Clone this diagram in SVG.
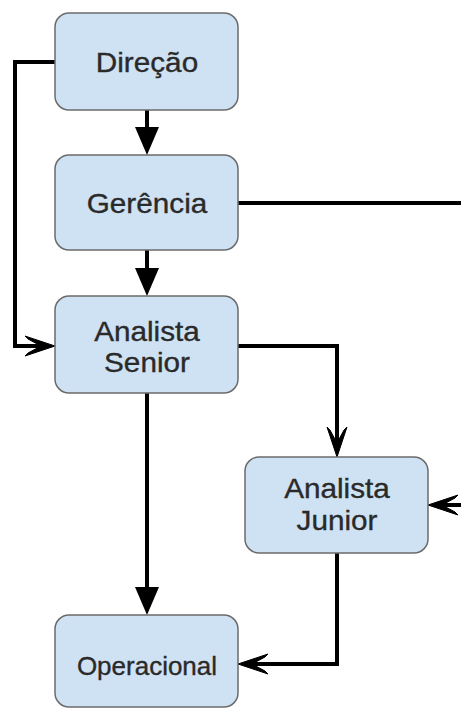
<svg xmlns="http://www.w3.org/2000/svg" width="461" height="708" viewBox="0 0 461 708">
  <style>
    .box { fill: #cfe2f3; stroke: #6b6b6b; stroke-width: 1.5; }
    .lbl { font-family: "Liberation Sans", Arial, sans-serif; font-size: 27px; fill: #2a2a2a; stroke: #2a2a2a; stroke-width: 0.35; text-anchor: middle; }
    .small { font-size: 25px; }
    .wire { fill: none; stroke: #000; stroke-width: 4; stroke-linejoin: miter; }
    .solid { fill: #000; }
    .open { fill: #000; stroke: #000; stroke-width: 1; stroke-linejoin: miter; }
  </style>
  <defs>
    <!-- filled triangle head, tip at origin pointing +x -->
    <path id="headSolid" class="solid" d="M0,0 L-28,-12 L-28,12 Z"/>
    <!-- swept open head, tip at origin pointing +x -->
    <path id="headOpen" class="open" d="M0,0 L-30,-10 L-27,-7 L-14,0 L-27,7 L-30,10 Z"/>
  </defs>

  <g id="connectors">
    <!-- Direção -> Gerência -->
    <line class="wire" x1="147" y1="110" x2="147" y2="130"/>
    <use href="#headSolid" transform="translate(147,155) rotate(90)"/>
    <!-- Gerência -> Analista Senior -->
    <line class="wire" x1="147" y1="250" x2="147" y2="272"/>
    <use href="#headSolid" transform="translate(147,296) rotate(90)"/>
    <!-- Direção left loop -> Analista Senior -->
    <polyline class="wire" points="55,62 15,62 15,346 42,346"/>
    <use href="#headOpen" transform="translate(55,346)"/>
    <!-- Gerência outgoing to the right -->
    <line class="wire" x1="238" y1="203" x2="461" y2="203"/>
    <!-- Analista Senior -> Analista Junior -->
    <polyline class="wire" points="238,346 337,346 337,444"/>
    <use href="#headOpen" transform="translate(337,457) rotate(90)"/>
    <!-- Analista Senior -> Operacional -->
    <line class="wire" x1="147" y1="393" x2="147" y2="592"/>
    <use href="#headSolid" transform="translate(147,615) rotate(90)"/>
    <!-- Analista Junior -> Operacional -->
    <polyline class="wire" points="337,553 337,664 251,664"/>
    <use href="#headOpen" transform="translate(238,664) rotate(180)"/>
    <!-- incoming from the right into Analista Junior -->
    <line class="wire" x1="461" y1="505" x2="441" y2="505"/>
    <use href="#headOpen" transform="translate(428,505) rotate(180)"/>
  </g>

  <g id="direcao">
    <rect class="box" x="55" y="13" width="183" height="97" rx="14"/>
    <text class="lbl" x="147" y="72" transform="matrix(1.1,0,0,1,-14.7,0)">Direção</text>
  </g>
  <g id="gerencia">
    <rect class="box" x="55" y="155" width="183" height="95" rx="14"/>
    <text class="lbl" x="147" y="213" transform="matrix(1.1,0,0,1,-14.7,0)">Gerência</text>
  </g>
  <g id="analista-senior">
    <rect class="box" x="55" y="296" width="183" height="97" rx="14"/>
    <text class="lbl" x="147" y="341" transform="matrix(1.1,0,0,1,-14.7,0)">Analista</text>
    <text class="lbl" x="147" y="372" transform="matrix(1.1,0,0,1,-14.7,0)">Senior</text>
  </g>
  <g id="analista-junior">
    <rect class="box" x="245" y="457" width="183" height="96" rx="14"/>
    <text class="lbl" x="337" y="498" transform="matrix(1.1,0,0,1,-33.7,0)">Analista</text>
    <text class="lbl" x="337" y="530" transform="matrix(1.1,0,0,1,-33.7,0)">Junior</text>
  </g>
  <g id="operacional">
    <rect class="box" x="55" y="615" width="183" height="92" rx="14"/>
    <text class="lbl small" x="147" y="675" transform="matrix(1.04,0,0,1,-5.9,0)">Operacional</text>
  </g>
</svg>
